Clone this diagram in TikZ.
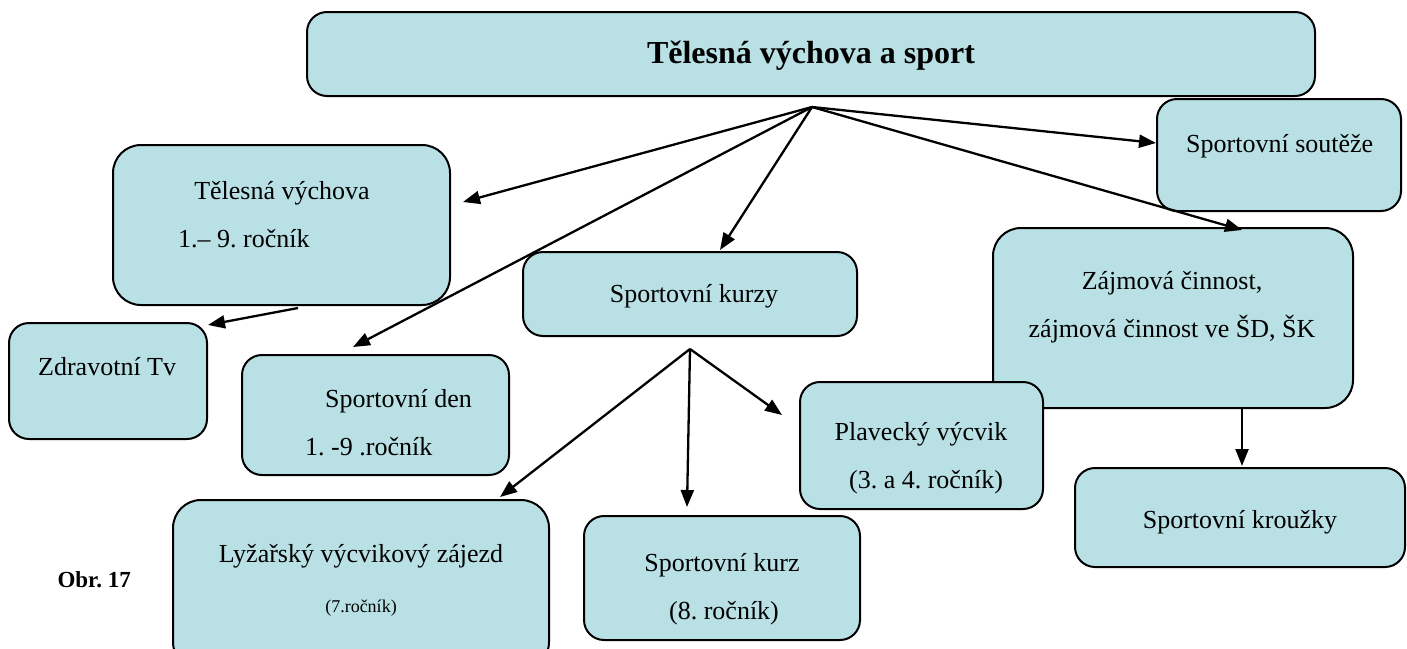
\documentclass[tikz,border=0pt]{standalone}
\usepackage{fontspec}
\setmainfont{Liberation Serif}
\usetikzlibrary{arrows.meta}
\definecolor{boxfill}{RGB}{185,224,228}
\frenchspacing
\begin{document}
\begin{tikzpicture}[x=1pt,y=-1pt,
  box/.style={draw=black, line width=2pt, fill=boxfill, rounded corners=20pt, inner sep=0pt},
  lbl/.style={inner sep=0pt, font=\fontsize{26}{30}\selectfont, anchor=base},
  small/.style={inner sep=0pt, font=\fontsize{18}{22}\selectfont, anchor=base},
  arr/.style={line width=2.3pt, -{Triangle[length=17pt,width=13pt]}}]
\useasboundingbox (0,0) rectangle (1407,648);
\clip (0,0) rectangle (1407,648);

% boxes
\node[box, minimum width=1008pt, minimum height=84pt] (title) at (811,54) {};
\node[box, minimum width=337pt, minimum height=160pt, rounded corners=28pt] (tv) at (281.5,225) {};
\node[box, minimum width=198pt, minimum height=116pt] (zdr) at (108,381) {};
\node[box, minimum width=267pt, minimum height=120pt] (den) at (375.5,415) {};
\node[box, minimum width=334pt, minimum height=84pt] (kurzy) at (690,294) {};
\node[box, minimum width=244pt, minimum height=112pt] (sout) at (1279,155) {};
\node[box, minimum width=360pt, minimum height=180pt, rounded corners=28pt] (zaj) at (1173,318) {};
\node[box, minimum width=243pt, minimum height=127pt] (plav) at (921.5,445.5) {};
\node[box, minimum width=330pt, minimum height=99pt] (krouz) at (1240,517.5) {};
\node[box, minimum width=376pt, minimum height=170pt, rounded corners=28pt] (lyz) at (361,585) {};
\node[box, minimum width=276pt, minimum height=124pt] (kurz) at (722,578) {};

% texts
\node[inner sep=0pt, font=\fontsize{32}{36}\selectfont\bfseries, anchor=base] (t0) at (811,63) {Tělesná výchova a sport};
\node[lbl] (t1) at (282,199) {Tělesná výchova};
\node[lbl, anchor=base west] (t2) at (178,247) {1.– 9. ročník};
\node[lbl, anchor=base west] (t3) at (38,375) {Zdravotní Tv};
\node[lbl, anchor=base west] (t4) at (325,407) {Sportovní den};
\node[lbl, anchor=base west] (t5) at (305,455) {1. -9 .ročník};
\node[lbl] (t6) at (694,302) {Sportovní kurzy};
\node[lbl, anchor=base west] (t7) at (1186,152) {Sportovní soutěže};
\node[lbl] (t8) at (1172,289) {Zájmová činnost,};
\node[lbl] (t9) at (1172,337) {zájmová činnost ve ŠD, ŠK};
\node[lbl] (t10) at (921,440) {Plavecký výcvik};
\node[lbl] (t11) at (926,488) {(3. a 4. ročník)};
\node[lbl] (t12) at (1240,528) {Sportovní kroužky};
\node[lbl] (t13) at (361,562) {Lyžařský výcvikový zájezd};
\node[small] (t14) at (361,612) {(7.ročník)};
\node[lbl] (t15) at (722,571) {Sportovní kurz};
\node[lbl] (t16) at (724,619) {(8. ročník)};
\node[inner sep=0pt, font=\fontsize{23}{27}\selectfont\bfseries, anchor=base east] (obr) at (131,587) {Obr. 17};

% connector coordinates
\coordinate (hub) at (812,107);
\coordinate (hubk) at (690,349);
\coordinate (tvs) at (298,308);
\coordinate (zajs) at (1242,408);
\coordinate (pTV) at (463,202);
\coordinate (pDen) at (353,347);
\coordinate (pKurzy) at (720,250);
\coordinate (pSout) at (1156,143);
\coordinate (pZaj) at (1242,230);
\coordinate (pZdr) at (208,325);
\coordinate (pLyz) at (500,497);
\coordinate (pKurz) at (687,507);
\coordinate (pPlav) at (782,415);
\coordinate (pKrouz) at (1242,466);

% arrows
\draw[arr] (hub) -- (pTV);
\draw[arr] (hub) -- (pDen);
\draw[arr] (hub) -- (pKurzy);
\draw[arr] (hub) -- (pSout);
\draw[arr] (hub) -- (pZaj);
\draw[arr] (tvs) -- (pZdr);
\draw[arr] (hubk) -- (pLyz);
\draw[arr] (hubk) -- (pKurz);
\draw[arr] (hubk) -- (pPlav);
\draw[arr] (zajs) -- (pKrouz);
\end{tikzpicture}
\end{document}
